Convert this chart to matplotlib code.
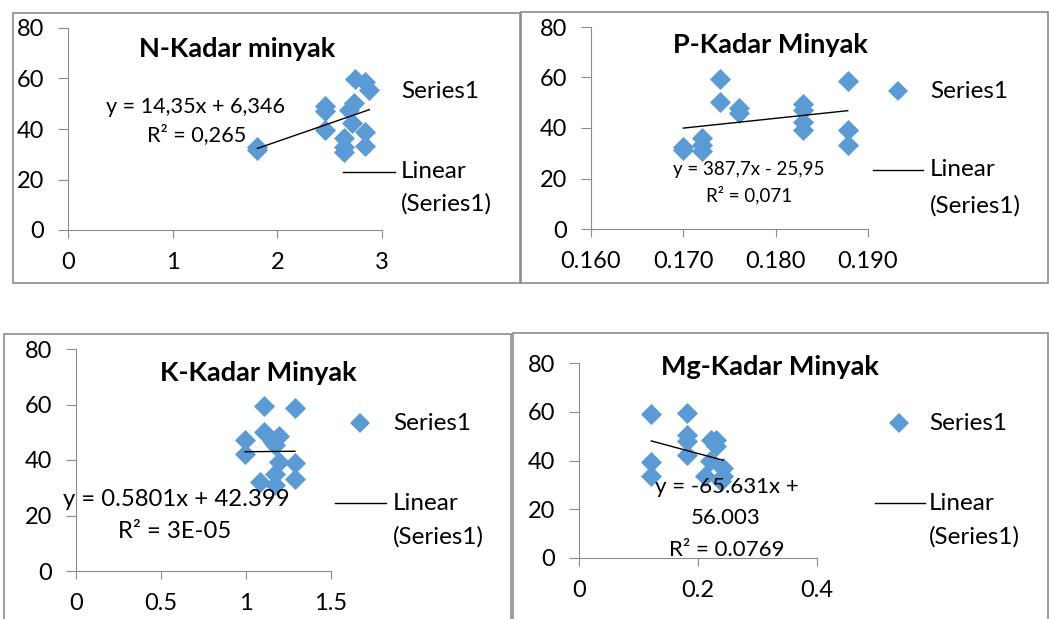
import matplotlib.pyplot as plt
import matplotlib.patches as patches
from matplotlib.lines import Line2D
import numpy as np

plt.rcParams['font.family'] = ['Lato', 'DejaVu Sans']

W, H = 1049, 619
BLUE = '#5B9BD5'
GRAY = '#8c8c8c'

# N - kadar minyak
n_x = [1.81, 1.81, 2.46, 2.46, 2.46, 2.64, 2.64, 2.64, 2.68, 2.71, 2.73, 2.74, 2.84, 2.88, 2.84, 2.84]
n_y = [31.5, 33, 49, 47, 39.7, 36.4, 33, 30.7, 47.6, 42.3, 50.2, 59.8, 58.8, 55.3, 39, 33.3]
n_fit = (14.35, 6.346)

# P - kadar minyak
p_x = [0.170, 0.170, 0.172, 0.172, 0.172, 0.174, 0.174, 0.176, 0.176,
       0.183, 0.183, 0.183, 0.183, 0.1878, 0.1878, 0.1878]
p_y = [32.6, 31.3, 35.9, 33.3, 30.7, 59.3, 50.1, 47.8, 45.8,
       49.7, 47, 42.5, 39.2, 58.7, 39.2, 33.3]
p_fit = (387.7, -25.95)

# K - kadar minyak
k_x = [0.994, 0.994, 1.106, 1.106, 1.288, 1.288, 1.288, 1.08, 1.17, 1.17, 1.196, 1.196, 1.16, 1.17]
k_y = [47.2, 42.1, 59.4, 50.2, 58.6, 39, 33.3, 32.1, 30.9, 35.1, 39.3, 48.6, 46.6, 45.4]
k_fit = (0.5801, 42.399)

# Mg - kadar minyak
mg_x = [0.1216, 0.1216, 0.1216, 0.1815, 0.1815, 0.1815, 0.1815,
        0.222, 0.231, 0.231, 0.22, 0.211, 0.242, 0.242, 0.239]
mg_y = [59.1, 39.2, 33.5, 59.5, 50.6, 47.9, 42.4,
        48.5, 48.5, 45.8, 39.7, 33.5, 36.9, 33.5, 31.5]
mg_fit = (-65.631, 56.003)


def fx(px):
    return px / W


def fy(py):
    return 1 - py / H


fig = plt.figure(figsize=(W / 100, H / 100), dpi=100)

# panel frames (pixels, top-left origin)
for x0, y0, x1, y1 in [(13, 13, 520, 283), (521, 12, 1048, 283),
                       (4, 334, 511, 640), (513, 333, 1048, 640)]:
    fig.patches.append(patches.Rectangle((fx(x0), fy(y1)), fx(x1 - x0), (y1 - y0) / H,
                                         transform=fig.transFigure, fill=False,
                                         edgecolor=GRAY, linewidth=1.2))


def panel(box, xs, ys, fit, xlim, xticks, xlabels, title, title_pos,
          eq_lines, leg, leg_marker=True):
    left, top, right, bottom = box
    ax = fig.add_axes([fx(left), fy(bottom), (right - left) / W, (bottom - top) / H])
    ax.scatter(xs, ys, marker='D', s=115, color=BLUE, linewidths=0, zorder=3)
    xx = np.array([min(xs), max(xs)])
    ax.plot(xx, fit[0] * xx + fit[1], color='black', linewidth=1, zorder=4)
    ax.set_xlim(*xlim)
    ax.set_ylim(0, 80)
    ax.set_xticks(xticks)
    ax.set_xticklabels(xlabels)
    ax.set_yticks([0, 20, 40, 60, 80])
    ax.patch.set_alpha(0)
    for s in ['top', 'right']:
        ax.spines[s].set_visible(False)
    for s in ['left', 'bottom']:
        ax.spines[s].set_color(GRAY)
    ax.tick_params(axis='y', direction='out', length=7, color=GRAY, labelsize=17, pad=10)
    ax.tick_params(axis='x', direction='out', length=6, color=GRAY, labelsize=17, pad=10)

    fig.text(fx(title_pos[0]), fy(title_pos[1]), title, fontsize=19.5, fontweight='bold',
             ha='center', va='center')
    for txt, cx, cy, fs in eq_lines:
        fig.text(fx(cx), fy(cy), txt, fontsize=fs, ha='center', va='center')

    mx, my, lx0, lx1, ly, tx, ty2 = leg
    if leg_marker:
        fig.add_artist(Line2D([fx(mx)], [fy(my)], marker='D', markersize=10, color=BLUE,
                              markeredgewidth=0, transform=fig.transFigure))
    fig.text(fx(tx), fy(my), 'Series1', fontsize=17.5, ha='left', va='center')
    fig.add_artist(Line2D([fx(lx0), fx(lx1)], [fy(ly), fy(ly)], color='black',
                          linewidth=1, transform=fig.transFigure))
    fig.text(fx(tx), fy(ly), 'Linear', fontsize=17.5, ha='left', va='center')
    fig.text(fx(tx), fy(ty2), '(Series1)', fontsize=17.5, ha='left', va='center')
    return ax


panel((68, 28, 382, 230), n_x, n_y, n_fit, (0, 3), [0, 1, 2, 3], ['0', '1', '2', '3'],
      'N-Kadar minyak', (237, 49),
      [('y = 14,35x + 6,346', 196, 107, 15.6), ('R² = 0,265', 197, 135, 15.6)],
      (370, 91, 343, 395, 172, 401, 204), leg_marker=False)

panel((591, 27, 868, 229), p_x, p_y, p_fit, (0.160, 0.190), [0.160, 0.170, 0.180, 0.190],
      ['0.160', '0.170', '0.180', '0.190'],
      'P-Kadar Minyak', (770, 45),
      [('y = 387,7x - 25,95', 749, 170, 13.5), ('R² = 0,071', 749, 195, 13.5)],
      (898, 91, 873, 923, 170, 930, 206))

panel((76, 349, 331, 571), k_x, k_y, k_fit, (0, 1.5), [0, 0.5, 1, 1.5],
      ['0', '0.5', '1', '1.5'],
      'K-Kadar Minyak', (258, 373),
      [('y = 0.5801x + 42.399', 176, 500, 17.2), ('R² = 3E-05', 175, 532, 17.2)],
      (360, 423, 335, 386, 503, 393, 537))

panel((579, 363, 817, 558), mg_x, mg_y, mg_fit, (0, 0.4), [0, 0.2, 0.4],
      ['0', '0.2', '0.4'],
      'Mg-Kadar Minyak', (770, 367),
      [('y = -65.631x +', 727, 487, 16), ('56.003', 726, 518, 16), ('R² = 0.0769', 727, 550, 16)],
      (899, 423, 875, 925, 503, 929, 537))

fig.savefig('out.png', dpi=100)
